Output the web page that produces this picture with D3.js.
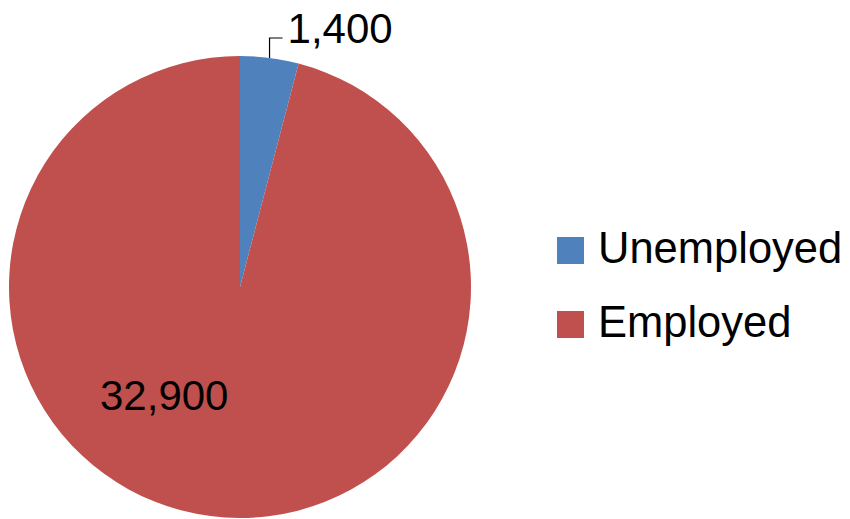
<!DOCTYPE html>
<html><head><meta charset="utf-8">
<script src="https://cdn.jsdelivr.net/npm/d3@7"></script>
<style>body{margin:0;background:#fff}svg{display:block}</style>
</head><body>
<script>
const categories = ["Unemployed", "Employed"];
const values = [1400, 32900];
const labels = ["1,400", "32,900"];
const colors = ["#4F81BD", "#C0504D"];

const W = 850, H = 519;
const cx = 240, cy = 287, R = 231;
const font = "'Liberation Sans', Arial, sans-serif";

const svg = d3.select("body").append("svg").attr("width", W).attr("height", H);
const color = d3.scaleOrdinal().domain(categories).range(colors);
const pie = d3.pie().sort(null).value(d => d.v);
const data = categories.map((c, i) => ({c, v: values[i], l: labels[i]}));
const arcs = pie(data);
const arc = d3.arc().innerRadius(0).outerRadius(R);

const g = svg.append("g").attr("transform", `translate(${cx},${cy})`);
g.selectAll("path").data(arcs).join("path")
  .attr("d", arc).attr("fill", d => color(d.data.c))
  .attr("stroke", "none");

// label for small slice with leader
const a0 = arcs[0];
const mid0 = (a0.startAngle + a0.endAngle) / 2;
const ex = R * Math.sin(mid0), ey = -R * Math.cos(mid0);
g.append("path")
  .attr("d", `M${ex},${ey} L${ex},${-249} L${ex + 13},${-249}`)
  .attr("fill", "none").attr("stroke", "#000").attr("stroke-width", 1.2);
g.append("text").attr("x", ex + 18).attr("y", -244)
  .attr("font-family", font).attr("font-size", 42).attr("fill", "#000")
  .text(a0.data.l);

// label for large slice (inside, lower-left)
const a1 = arcs[1];
g.append("text").attr("x", -140).attr("y", 123)
  .attr("font-family", font).attr("font-size", 42).attr("fill", "#000")
  .text(a1.data.l);

// legend
const leg = svg.append("g").attr("transform", "translate(557,237)");
const item = leg.selectAll("g").data(categories).join("g")
  .attr("transform", (d, i) => `translate(0,${i * 74})`);
item.append("rect").attr("width", 27).attr("height", 27).attr("fill", d => color(d));
item.append("text").attr("x", 41).attr("y", 26)
  .attr("font-family", font).attr("font-size", 43.5).attr("fill", "#000")
  .text(d => d);
</script>
</body></html>
